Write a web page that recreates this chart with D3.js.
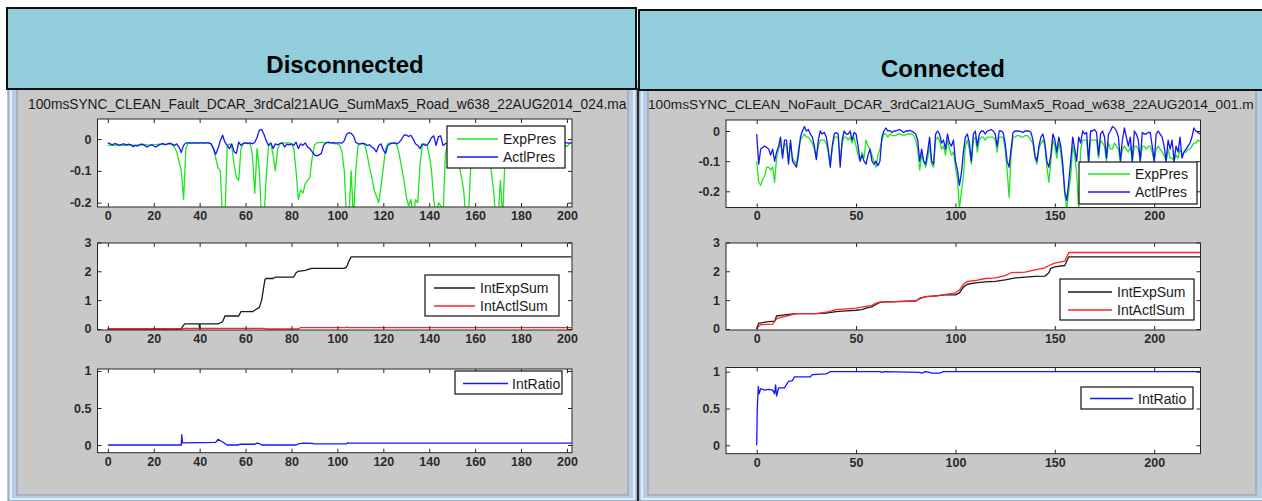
<!DOCTYPE html>
<html><head><meta charset="utf-8">
<script src="https://cdn.jsdelivr.net/npm/d3@7"></script>
<style>body{margin:0;background:#fff;} svg{display:block;}</style>
</head><body><svg id="c" width="1262" height="501"></svg>
<script>
// ---------------- DATA ----------------
const headerLabels = ["Disconnected", "Connected"];
const windowTitles = [
  "100msSYNC_CLEAN_Fault_DCAR_3rdCal21AUG_SumMax5_Road_w638_22AUG2014_024.ma",
  "100msSYNC_CLEAN_NoFault_DCAR_3rdCal21AUG_SumMax5_Road_w638_22AUG2014_001.m"
];
const discXTicks = [0,20,40,60,80,100,120,140,160,180,200];
const connXTicks = [0,50,100,150,200];
const presYTicks = [0,-0.1,-0.2];
const sumYTicks = [0,1,2,3];
const ratioYTicks = [0,0.5,1];

// Disconnected, pressures sampled at t = 0..202
const discTime = d3.range(0, 203);
const discExpPres = [
-0.02,-0.02,-0.019,-0.02,-0.018,-0.02,-0.019,-0.018,-0.02,-0.019,
-0.018,-0.019,-0.02,-0.018,-0.019,-0.018,-0.017,-0.018,-0.019,-0.018,
-0.017,-0.018,-0.016,-0.017,-0.016,-0.017,-0.016,-0.015,-0.018,-0.025,
-0.04,-0.07,-0.1,-0.19,-0.03,-0.012,-0.012,-0.012,-0.012,-0.012,
-0.012,-0.012,-0.012,-0.012,-0.012,-0.015,-0.03,-0.06,-0.09,-0.1,
-0.25,-0.25,-0.02,-0.015,-0.025,-0.08,-0.12,-0.13,-0.03,-0.015,
-0.012,-0.012,-0.015,-0.05,-0.17,-0.03,-0.1,-0.25,-0.25,-0.12,
-0.02,-0.015,-0.05,-0.1,-0.03,-0.015,-0.012,-0.012,-0.012,-0.012,
-0.015,-0.03,-0.1,-0.19,-0.16,-0.17,-0.14,-0.13,-0.12,-0.06,
-0.02,-0.012,-0.011,-0.01,-0.012,-0.012,-0.012,-0.012,-0.012,-0.015,
-0.015,-0.02,-0.04,-0.1,-0.25,-0.25,-0.1,-0.25,-0.1,-0.02,
-0.015,-0.015,-0.02,-0.05,-0.09,-0.12,-0.16,-0.18,-0.2,-0.15,
-0.09,-0.03,-0.015,-0.012,-0.013,-0.012,-0.02,-0.05,-0.09,-0.13,
-0.18,-0.21,-0.19,-0.25,-0.19,-0.2,-0.08,-0.02,-0.015,-0.02,
-0.05,-0.1,-0.19,-0.25,-0.2,-0.21,-0.25,-0.05,-0.015,-0.015,
-0.015,-0.02,-0.04,-0.08,-0.12,-0.16,-0.25,-0.25,-0.1,-0.02,
-0.015,-0.015,-0.015,-0.02,-0.015,-0.015,-0.03,-0.1,-0.16,-0.25,
-0.25,-0.13,-0.25,-0.06,-0.02,-0.016,-0.015,-0.015,-0.016,-0.015,
-0.015,-0.016,-0.015,-0.015,-0.016,-0.015,-0.015,-0.016,-0.015,-0.015,
-0.016,-0.015,-0.015,-0.016,-0.015,-0.015,-0.016,-0.015,-0.016,-0.018,
-0.024,-0.015,-0.012];
const discActlPres = [
-0.012,-0.015,-0.018,-0.014,-0.016,-0.02,-0.017,-0.015,-0.019,-0.016,
-0.018,-0.024,-0.02,-0.022,-0.017,-0.016,-0.02,-0.025,-0.021,-0.018,
-0.022,-0.025,-0.02,-0.016,-0.014,-0.018,-0.015,-0.013,-0.016,-0.02,
-0.015,-0.025,-0.042,-0.02,-0.012,-0.012,-0.013,-0.012,-0.012,-0.013,
-0.012,-0.012,-0.013,-0.012,-0.012,-0.015,-0.03,-0.048,-0.03,-0.005,
0.012,-0.01,-0.02,-0.03,-0.015,-0.04,-0.045,-0.01,-0.02,-0.013,
-0.012,-0.014,-0.012,-0.015,-0.01,0.005,0.028,0.03,0.015,-0.005,
-0.02,-0.012,-0.03,-0.015,-0.018,-0.014,-0.012,-0.025,-0.016,-0.018,
-0.015,-0.02,-0.01,-0.03,-0.015,-0.02,-0.012,-0.025,-0.03,-0.04,
-0.05,-0.053,-0.05,-0.045,-0.02,-0.012,-0.01,-0.012,-0.011,-0.013,
-0.012,-0.012,-0.013,-0.005,0.015,0.02,0.018,0.01,-0.01,-0.015,
-0.015,-0.013,-0.015,-0.02,-0.018,-0.025,-0.03,-0.04,-0.02,-0.015,
-0.035,-0.045,-0.02,-0.015,-0.013,-0.012,-0.015,-0.01,0.0,0.012,
0.013,0.008,0.012,0.0,-0.015,-0.02,-0.03,-0.015,-0.018,-0.02,
-0.01,0.005,0.01,-0.02,0.008,0.01,-0.02,-0.015,-0.012,-0.014,
-0.012,-0.015,-0.013,-0.012,-0.014,-0.012,-0.015,-0.013,-0.012,-0.014,
-0.012,-0.013,-0.012,-0.014,-0.012,-0.013,-0.012,-0.012,-0.013,-0.012,
-0.012,-0.013,-0.012,-0.012,-0.014,-0.012,-0.013,-0.012,-0.012,-0.013,
-0.012,-0.012,-0.013,-0.012,-0.012,-0.014,-0.012,-0.013,-0.012,-0.012,
-0.012,-0.013,-0.012,-0.012,-0.013,-0.012,-0.012,-0.013,-0.012,-0.012,
-0.012,-0.013,-0.012];

// Disconnected cumulative sums / ratio (breakpoints)
const discIntExpX = [0,32,32.5,33.5,39.8,40,40.2,48,50,51,57,58,63,64,66,67,67.5,68,68.5,69,72,73,81,82,83,86,88,89,103,104,105,106,202];
const discIntExp  = [0,0,0.08,0.18,0.18,0.0,0.18,0.18,0.25,0.45,0.45,0.6,0.6,0.65,0.75,1.0,1.25,1.5,1.72,1.75,1.75,1.8,1.8,1.95,2.0,2.03,2.08,2.1,2.1,2.15,2.35,2.5,2.5];
const discIntActX = [0,32,33,68,69,83,84,103.5,104,104.5,202];
const discIntAct  = [0,0,0.02,0.02,0.0,0.0,0.05,0.05,0.07,0.05,0.05];
const discRatioX = [0,32,32.2,32.5,47,48,50,52,57,57.5,64,65,66,67,82,83,85,89,90,104,104.5,105,202];
const discRatio  = [0,0,0.14,0.03,0.036,0.077,0.04,0.0,0.0,0.01,0.01,0.025,0.02,0.0,0.0,0.015,0.025,0.022,0.015,0.015,0.03,0.025,0.025];

// Connected, pressures sampled at t = 0..223
const connTime = d3.range(0, 224);
const connExpPres = [
-0.10,-0.17,-0.18,-0.16,-0.15,-0.12,-0.12,-0.13,-0.12,-0.17,
-0.09,-0.06,-0.04,-0.08,-0.04,-0.05,-0.10,-0.04,-0.09,-0.10,
-0.11,-0.06,-0.03,-0.02,-0.01,-0.02,-0.02,-0.03,-0.04,-0.06,
-0.09,-0.05,-0.03,-0.03,-0.03,-0.04,-0.07,-0.11,-0.06,-0.02,
-0.02,-0.02,-0.10,-0.04,-0.02,-0.02,-0.03,-0.02,-0.04,-0.02,
-0.05,-0.08,-0.10,-0.07,-0.09,-0.03,-0.05,-0.06,-0.08,-0.10,
-0.12,-0.08,-0.06,-0.03,-0.01,-0.01,-0.02,-0.01,-0.015,-0.015,
-0.015,-0.01,-0.01,-0.012,-0.015,-0.012,-0.01,-0.01,-0.01,-0.015,
-0.03,-0.06,-0.13,-0.08,-0.10,-0.12,-0.09,-0.05,-0.11,-0.12,
-0.03,-0.02,-0.03,-0.06,-0.05,-0.08,-0.03,-0.06,-0.08,-0.07,
-0.12,-0.16,-0.26,-0.20,-0.15,-0.05,-0.03,-0.06,-0.11,-0.03,
-0.02,-0.07,-0.03,-0.02,-0.02,-0.03,-0.02,-0.02,-0.02,-0.02,
-0.03,-0.07,-0.02,-0.02,-0.02,-0.06,-0.13,-0.22,-0.08,-0.02,
-0.02,-0.015,-0.015,-0.02,-0.02,-0.015,-0.015,-0.02,-0.03,-0.04,
-0.09,-0.11,-0.06,-0.04,-0.03,-0.05,-0.12,-0.17,-0.10,-0.03,
-0.05,-0.09,-0.04,-0.07,-0.13,-0.21,-0.26,-0.20,-0.15,-0.05,
-0.08,-0.14,-0.26,-0.06,-0.03,-0.03,-0.03,-0.11,-0.03,-0.03,
-0.03,-0.03,-0.09,-0.03,-0.04,-0.05,-0.10,-0.04,-0.06,-0.06,
-0.04,-0.05,-0.06,-0.10,-0.06,-0.05,-0.06,-0.07,-0.05,-0.10,
-0.05,-0.05,-0.06,-0.10,-0.05,-0.05,-0.06,-0.05,-0.05,-0.07,
-0.10,-0.06,-0.05,-0.06,-0.07,-0.08,-0.10,-0.06,-0.09,-0.09,
-0.10,-0.08,-0.09,-0.06,-0.08,-0.07,-0.07,-0.06,-0.06,-0.05,
-0.04,-0.04,-0.03,-0.035];
const connActlPres = [
-0.01,-0.11,-0.06,-0.055,-0.05,-0.055,-0.06,-0.08,-0.06,-0.10,
-0.07,-0.05,-0.02,-0.09,-0.03,-0.03,-0.11,-0.03,-0.10,-0.11,
-0.12,-0.08,-0.02,0.0,0.015,0.0,0.005,-0.01,-0.02,-0.05,
-0.095,-0.03,0.0,-0.01,-0.005,-0.02,-0.06,-0.12,-0.05,-0.01,
-0.005,-0.01,-0.12,-0.03,0.0,-0.01,-0.01,0.0,-0.03,-0.005,
-0.01,-0.05,-0.10,-0.08,-0.10,-0.11,-0.08,-0.06,-0.10,-0.11,
-0.10,-0.115,-0.10,-0.02,0.0,0.01,0.0,0.002,-0.005,0.0,
0.0,0.003,0.005,0.0,-0.005,0.0,0.0,0.002,0.0,-0.005,
-0.01,-0.03,-0.10,-0.06,-0.10,-0.11,-0.07,-0.02,-0.10,-0.11,
-0.01,0.0,-0.01,-0.04,-0.03,-0.06,-0.01,-0.04,-0.05,-0.03,
-0.10,-0.13,-0.18,-0.14,-0.07,-0.02,-0.01,-0.04,-0.10,-0.01,
0.0,-0.05,-0.01,0.0,0.0,-0.01,0.0,0.002,0.005,0.0,
-0.01,-0.05,0.0,0.0,-0.005,-0.04,-0.10,-0.12,-0.06,-0.005,
0.0,0.0,0.0,-0.002,-0.005,0.0,0.0,0.0,-0.005,-0.03,
-0.08,-0.10,-0.05,-0.02,-0.01,-0.04,-0.10,-0.12,-0.08,-0.01,
-0.03,-0.07,-0.02,-0.05,-0.11,-0.20,-0.23,-0.17,-0.10,-0.02,
-0.06,-0.10,-0.02,-0.04,0.0,-0.01,-0.005,-0.10,0.0,0.0,
0.005,-0.005,-0.08,-0.01,0.0,-0.02,-0.09,-0.01,0.0,0.015,
0.01,0.0,-0.02,-0.10,-0.03,0.01,-0.02,-0.05,-0.02,-0.10,
0.0,-0.01,-0.03,-0.10,-0.005,-0.01,-0.01,-0.005,-0.005,-0.05,
-0.10,-0.01,0.0,-0.01,-0.02,-0.05,-0.10,-0.03,-0.06,-0.03,
-0.10,-0.05,-0.07,-0.02,-0.09,-0.07,-0.06,-0.05,-0.04,-0.02,
0.01,0.0,-0.005,-0.01];

// Connected cumulative sums / ratio (breakpoints)
const connIntExpX = [0,0.5,1,3,5,9,10,12,15,20,30,35,40,45,50,53,55,58,60,62,65,70,80,82,85,90,95,100,102,104,106,110,115,120,125,130,135,140,145,147,148,150,155,156,157,224];
const connIntExp  = [0,0.1,0.2,0.22,0.25,0.27,0.45,0.47,0.5,0.53,0.53,0.55,0.6,0.63,0.65,0.67,0.72,0.77,0.85,0.92,0.94,0.95,0.97,1.05,1.12,1.15,1.18,1.18,1.25,1.45,1.55,1.6,1.63,1.65,1.7,1.77,1.8,1.82,1.83,1.95,2.1,2.15,2.2,2.35,2.5,2.5];
const connIntActX = [0,1,2,8,10,12,15,20,30,35,40,45,50,55,58,60,62,70,80,82,85,90,95,100,102,104,106,110,115,120,125,128,135,140,145,147,150,155,156,157,224];
const connIntAct  = [0,0.1,0.15,0.17,0.35,0.4,0.45,0.53,0.53,0.58,0.67,0.7,0.72,0.78,0.82,0.9,0.93,0.95,0.97,1.07,1.12,1.14,1.2,1.25,1.35,1.55,1.65,1.68,1.75,1.77,1.85,1.95,1.97,2.05,2.12,2.2,2.28,2.35,2.5,2.65,2.65];
const connRatioX = [0,0.3,0.8,1.2,2,4,6,8,9,9.5,10,11,14,16,18,19,27,28,35,37,62,63,64,82,83,85,87,88,92,94,224];
const connRatio  = [0,0.5,0.8,0.7,0.77,0.75,0.76,0.75,0.7,0.82,0.67,0.78,0.78,0.87,0.88,0.93,0.93,0.96,0.97,1.0,1.0,0.99,1.0,0.99,0.98,1.0,0.99,0.98,0.98,1.0,1.0];

// ---------------- DRAWING ----------------
const svg = d3.select('#c');
const FONT = "Arial, 'Liberation Sans', Helvetica, sans-serif";
const GREEN = "#1ee61e", BLUE = "#1414ff", RED = "#ff2222", BLACK = "#1a1a1a";

// window frames
function windowFrame(x0, x1, grayX0, grayX1) {
  svg.append('rect').attr('x', x0).attr('y', 80).attr('width', x1 - x0).attr('height', 421)
    .attr('fill', '#b7cde4').attr('stroke', '#7d93ad').attr('stroke-width', 1);
  svg.append('rect').attr('x', x0 + 3).attr('y', 82).attr('width', x1 - x0 - 6).attr('height', 417)
    .attr('fill', 'none').attr('stroke', '#e2edf8').attr('stroke-width', 2);
  svg.append('rect').attr('x', grayX0).attr('y', 88).attr('width', grayX1 - grayX0).attr('height', 407)
    .attr('fill', '#c8c8c8').attr('stroke', '#8c99aa').attr('stroke-width', 1);
}
windowFrame(8, 637, 17, 628);
windowFrame(639, 1268, 648, 1256);
svg.append('line').attr('x1', 638).attr('x2', 638).attr('y1', 88).attr('y2', 501)
  .attr('stroke', '#2a2a2a').attr('stroke-width', 2);

// window titles, sized to fit inside each window
const defs = svg.append('defs');
[[28, 627], [648, 1254]].forEach((w, i) => {
  const t = svg.append('text').attr('x', w[0]).attr('y', 109)
    .attr('font-family', FONT).attr('font-size', 14).attr('fill', '#1a1a1a').text(windowTitles[i]);
  const wFull = t.node().getComputedTextLength();
  t.attr('font-size', 14 * (w[1] - w[0]) / wFull);
});

// banners
[[7, 8, 629, 81, 345, 73], [639, 10, 640, 80, 943, 77]].forEach((b, i) => {
  svg.append('rect').attr('x', b[0]).attr('y', b[1]).attr('width', b[2]).attr('height', b[3])
    .attr('fill', '#92cddc').attr('stroke', '#111').attr('stroke-width', 2);
  svg.append('text').attr('x', b[4]).attr('y', b[5]).attr('text-anchor', 'middle')
    .attr('font-family', FONT).attr('font-weight', 'bold').attr('font-size', 24)
    .attr('fill', '#000').text(headerLabels[i]);
});

let clipN = 0;
function panel(cfg) {
  const {x0, x1, y0, y1, xDom, yDom, xTicks, yTicks, series, legend} = cfg;
  const xs = d3.scaleLinear().domain(xDom).range([x0, x1]);
  const ys = d3.scaleLinear().domain(yDom).range([y1, y0]);
  const g = svg.append('g');
  g.append('rect').attr('x', x0).attr('y', y0).attr('width', x1 - x0).attr('height', y1 - y0).attr('fill', '#fff');
  const id = 'pclip' + (clipN++);
  defs.append('clipPath').attr('id', id).append('rect')
    .attr('x', x0).attr('y', y0).attr('width', x1 - x0).attr('height', y1 - y0);
  const line = d3.line().x(d => xs(d[0])).y(d => ys(d[1]));
  const pg = g.append('g').attr('clip-path', `url(#${id})`);
  series.forEach(s => {
    pg.append('path').datum(d3.zip(s.x, s.y)).attr('d', line)
      .attr('fill', 'none').attr('stroke', s.color).attr('stroke-width', 1.3)
      .attr('stroke-linejoin', 'round');
  });
  const fmt = d => String(d);
  const styleAxis = (a) => {
    a.select('.domain').remove();
    a.selectAll('line').attr('stroke', '#262626');
    a.selectAll('text').attr('font-family', FONT).attr('font-size', 12.5)
      .attr('font-weight', 'bold').attr('fill', '#2a2a2a');
  };
  g.append('g').attr('transform', `translate(0,${y1})`)
    .call(d3.axisBottom(xs).tickValues(xTicks).tickFormat(fmt).tickSizeInner(-4).tickSizeOuter(0).tickPadding(4))
    .call(styleAxis);
  g.append('g').attr('transform', `translate(0,${y0})`)
    .call(d3.axisTop(xs).tickValues(xTicks).tickFormat('').tickSizeInner(-4).tickSizeOuter(0))
    .call(styleAxis);
  g.append('g').attr('transform', `translate(${x0},0)`)
    .call(d3.axisLeft(ys).tickValues(yTicks).tickFormat(fmt).tickSizeInner(-4).tickSizeOuter(0).tickPadding(6))
    .call(styleAxis);
  g.append('g').attr('transform', `translate(${x1},0)`)
    .call(d3.axisRight(ys).tickValues(yTicks).tickFormat('').tickSizeInner(-4).tickSizeOuter(0))
    .call(styleAxis);
  g.append('rect').attr('x', x0).attr('y', y0).attr('width', x1 - x0).attr('height', y1 - y0)
    .attr('fill', 'none').attr('stroke', '#262626').attr('stroke-width', 1);
  // legend
  const L = legend;
  g.append('rect').attr('x', L.x).attr('y', L.y).attr('width', L.w).attr('height', L.h)
    .attr('fill', '#fff').attr('stroke', '#111').attr('stroke-width', 1.2);
  series.forEach((s, i) => {
    const yy = L.rows[i];
    g.append('line').attr('x1', L.lx0).attr('x2', L.lx1).attr('y1', yy).attr('y2', yy)
      .attr('stroke', s.color).attr('stroke-width', 1.3);
    g.append('text').attr('x', L.tx).attr('y', yy).attr('dy', '0.36em')
      .attr('font-family', FONT).attr('font-size', 14).attr('fill', '#1a1a1a').text(s.name);
  });
}

const LX = [97.5, 572], RX = [726, 1200.5];
const discXDom = [-4.5, 202.2], connXDom = [-15.45, 223.3];

panel({x0: LX[0], x1: LX[1], y0: 119, y1: 207, xDom: discXDom, yDom: [-0.2135, 0.063],
  xTicks: discXTicks, yTicks: presYTicks,
  series: [{name: 'ExpPres', x: discTime, y: discExpPres, color: GREEN},
           {name: 'ActlPres', x: discTime, y: discActlPres, color: BLUE}],
  legend: {x: 447, y: 126, w: 118, h: 42, rows: [139, 157], lx0: 457, lx1: 498, tx: 503}});
panel({x0: LX[0], x1: LX[1], y0: 243, y1: 330, xDom: discXDom, yDom: [-0.035, 2.98],
  xTicks: discXTicks, yTicks: sumYTicks,
  series: [{name: 'IntExpSum', x: discIntExpX, y: discIntExp, color: BLACK},
           {name: 'IntActlSum', x: discIntActX, y: discIntAct, color: RED}],
  legend: {x: 425, y: 275, w: 134, h: 41, rows: [288, 306], lx0: 434, lx1: 475, tx: 480}});
panel({x0: LX[0], x1: LX[1], y0: 369, y1: 452.7, xDom: discXDom, yDom: [-0.104, 1.027],
  xTicks: discXTicks, yTicks: ratioYTicks,
  series: [{name: 'IntRatio', x: discRatioX, y: discRatio, color: BLUE}],
  legend: {x: 455, y: 371, w: 107, h: 23, rows: [383.5], lx0: 463, lx1: 508, tx: 512}});

panel({x0: RX[0], x1: RX[1], y0: 120, y1: 207.5, xDom: connXDom, yDom: [-0.2537, 0.0365],
  xTicks: connXTicks, yTicks: presYTicks,
  series: [{name: 'ExpPres', x: connTime, y: connExpPres, color: GREEN},
           {name: 'ActlPres', x: connTime, y: connActlPres, color: BLUE}],
  legend: {x: 1079, y: 162, w: 118, h: 42, rows: [174, 192], lx0: 1088, lx1: 1130, tx: 1135}});
panel({x0: RX[0], x1: RX[1], y0: 243, y1: 330, xDom: connXDom, yDom: [-0.035, 2.98],
  xTicks: connXTicks, yTicks: sumYTicks,
  series: [{name: 'IntExpSum', x: connIntExpX, y: connIntExp, color: BLACK},
           {name: 'IntActlSum', x: connIntActX, y: connIntAct, color: RED}],
  legend: {x: 1060, y: 279, w: 134, h: 41, rows: [292, 310], lx0: 1068, lx1: 1112, tx: 1117}});
panel({x0: RX[0], x1: RX[1], y0: 367.5, y1: 453.7, xDom: connXDom, yDom: [-0.114, 1.057],
  xTicks: connXTicks, yTicks: ratioYTicks,
  series: [{name: 'IntRatio', x: connRatioX, y: connRatio, color: BLUE}],
  legend: {x: 1081, y: 387, w: 112, h: 22, rows: [398.5], lx0: 1090, lx1: 1133, tx: 1138}});
</script>
</body></html>
